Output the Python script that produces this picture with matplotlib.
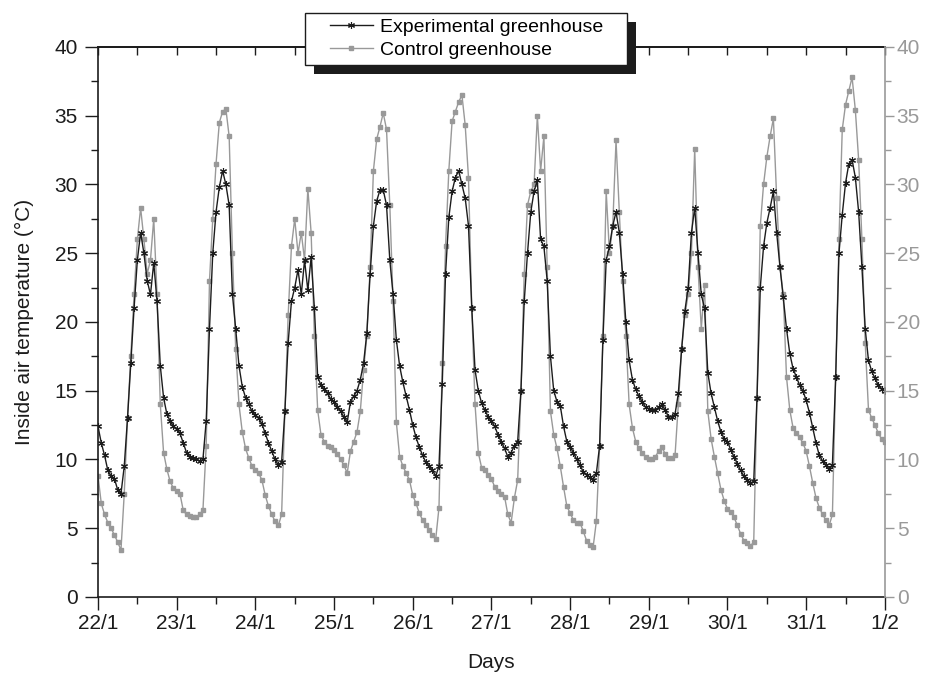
import numpy as np
import matplotlib
matplotlib.use("Agg")
import matplotlib.pyplot as plt
from matplotlib.patches import Rectangle
from matplotlib.ticker import MultipleLocator

plt.rcParams['font.family'] = ['Liberation Sans', 'DejaVu Sans']

# hourly readings, 22/1 00:00 .. 1/2 00:00 (one row per day)
exp_temp = [
    12.4, 11.2, 10.3, 9.2, 8.8, 8.6, 7.8, 7.5, 9.5, 13.0, 17.0, 21.0, 24.5, 26.5, 25.0, 23.0, 22.0, 24.3, 21.5, 16.8, 14.5, 13.3, 12.8, 12.4,
    12.2, 11.9, 11.2, 10.5, 10.2, 10.1, 10.0, 9.9, 10.0, 12.8, 19.5, 25.0, 28.0, 29.8, 31.0, 30.0, 28.5, 22.0, 19.5, 16.8, 15.3, 14.5, 14.0, 13.5,
    13.2, 13.0, 12.6, 11.9, 11.2, 10.6, 10.0, 9.6, 9.8, 13.5, 18.5, 21.5, 22.5, 23.8, 22.0, 24.5, 22.3, 24.7, 21.0, 16.0, 15.4, 15.1, 14.8, 14.4,
    14.2, 13.8, 13.5, 13.1, 12.7, 14.2, 14.6, 15.0, 15.8, 17.0, 19.2, 23.5, 27.0, 28.8, 29.6, 29.6, 28.5, 24.5, 22.0, 18.7, 16.8, 15.6, 14.6, 13.6,
    12.5, 11.6, 10.9, 10.3, 9.8, 9.5, 9.2, 8.8, 9.5, 15.5, 23.5, 27.6, 29.5, 30.5, 31.0, 30.0, 29.0, 27.0, 21.0, 16.5, 15.0, 14.1, 13.6, 13.1,
    12.8, 12.4, 11.8, 11.3, 10.8, 10.2, 10.5, 11.0, 11.3, 15.0, 21.5, 25.0, 28.0, 29.5, 30.3, 26.0, 25.5, 23.0, 17.5, 15.0, 14.2, 13.9, 12.4, 11.3,
    10.9, 10.5, 10.0, 9.6, 9.1, 8.9, 8.7, 8.5, 9.0, 11.0, 18.7, 24.5, 25.5, 27.0, 28.0, 26.5, 23.5, 20.0, 17.2, 15.8, 15.1, 14.6, 14.2, 13.8,
    13.7, 13.6, 13.6, 13.8, 14.0, 13.6, 13.1, 13.1, 13.3, 14.8, 18.0, 20.8, 22.5, 26.5, 28.3, 25.0, 22.0, 21.0, 16.3, 14.8, 13.8, 12.8, 12.0, 11.5,
    11.3, 10.7, 10.2, 9.7, 9.2, 8.8, 8.5, 8.3, 8.4, 14.5, 22.5, 25.5, 27.2, 28.3, 29.5, 26.5, 24.0, 21.8, 19.5, 17.7, 16.6, 16.0, 15.4, 15.0,
    14.3, 13.4, 12.3, 11.2, 10.3, 9.9, 9.6, 9.3, 9.6, 16.0, 25.0, 27.8, 30.1, 31.5, 31.8, 30.5, 28.0, 24.0, 19.5, 17.2, 16.4, 15.9, 15.4, 15.1,
    15.0,
]

ctrl_temp = [
    8.8, 6.8, 6.0, 5.4, 5.0, 4.5, 4.0, 3.4, 7.5, 13.0, 17.5, 22.0, 26.0, 28.3, 26.0, 23.5, 24.5, 27.5, 22.0, 14.0, 10.5, 9.3, 8.4, 7.9,
    7.7, 7.5, 6.3, 6.0, 5.9, 5.8, 5.8, 6.0, 6.3, 11.0, 23.0, 27.5, 31.5, 34.5, 35.3, 35.5, 33.5, 25.0, 18.0, 14.0, 12.0, 10.8, 10.1, 9.5,
    9.2, 9.0, 8.5, 7.4, 6.6, 6.0, 5.5, 5.2, 6.0, 13.5, 20.5, 25.5, 27.5, 25.0, 26.5, 24.5, 29.7, 26.5, 19.0, 13.6, 11.8, 11.3, 11.0, 10.9,
    10.7, 10.4, 10.0, 9.6, 9.0, 10.6, 11.3, 12.0, 13.5, 16.5, 19.0, 24.0, 31.0, 33.3, 34.2, 35.2, 34.0, 28.5, 21.5, 12.7, 10.2, 9.5, 9.0, 8.5,
    7.4, 6.8, 6.1, 5.6, 5.2, 4.9, 4.5, 4.2, 6.5, 17.0, 25.5, 31.0, 34.6, 35.3, 36.0, 36.5, 34.3, 30.5, 21.0, 14.0, 10.5, 9.4, 9.2, 8.9,
    8.6, 8.0, 7.7, 7.5, 7.3, 6.0, 5.4, 7.2, 8.5, 15.0, 23.5, 28.5, 29.5, 30.0, 35.0, 31.0, 33.5, 24.0, 13.5, 11.8, 10.8, 9.5, 8.0, 6.6,
    6.1, 5.6, 5.4, 5.4, 4.8, 4.1, 3.8, 3.6, 5.5, 11.0, 19.0, 29.5, 25.0, 27.0, 33.2, 28.0, 23.0, 19.0, 14.0, 12.3, 11.3, 10.8, 10.5, 10.2,
    10.0, 10.0, 10.2, 10.6, 10.9, 10.4, 10.1, 10.1, 10.3, 14.0, 18.0, 20.5, 22.0, 25.0, 32.6, 24.0, 19.5, 22.7, 13.5, 11.5, 10.2, 9.0, 7.8, 7.0,
    6.4, 6.2, 5.8, 5.2, 4.6, 4.1, 3.9, 3.7, 4.0, 14.5, 27.0, 30.0, 32.0, 33.5, 34.8, 29.0, 24.0, 22.0, 16.0, 13.6, 12.3, 11.9, 11.6, 11.2,
    10.6, 9.5, 8.3, 7.2, 6.5, 6.0, 5.6, 5.2, 6.0, 16.0, 26.0, 34.0, 35.8, 36.8, 37.8, 35.4, 31.8, 26.0, 18.5, 13.6, 13.0, 12.5, 11.9, 11.5,
    11.3,
]

day_labels = ['22/1', '23/1', '24/1', '25/1', '26/1', '27/1', '28/1', '29/1', '30/1', '31/1', '1/2']

days = np.arange(len(exp_temp)) / 24.0

W, H = 929, 677
fig = plt.figure(figsize=(W / 100, H / 100), dpi=100)
ax = fig.add_axes([0.1055, 0.1182, 0.847, 0.8124])

dark = '#1c1c1c'
grey = '#999999'

ln_c, = ax.plot(days, ctrl_temp, color=grey, lw=1.0, marker='s', ms=3.2,
                mfc=grey, mec=grey, label='Control greenhouse', zorder=2)
ln_e, = ax.plot(days, exp_temp, color=dark, lw=1.0, marker=(6, 2, 0), ms=5,
                mec=dark, mew=0.8, label='Experimental greenhouse', zorder=3)

ax.set_xlim(0, 10)
ax.set_ylim(0, 40)
ax.set_xticks(np.arange(len(day_labels)))
ax.set_xticklabels(day_labels)
ax.xaxis.set_minor_locator(MultipleLocator(0.5))
ax.yaxis.set_major_locator(MultipleLocator(5))
ax.yaxis.set_minor_locator(MultipleLocator(2.5))

ax.tick_params(axis='both', which='major', direction='out', length=9.5, width=1,
               labelsize=15, color=dark, labelcolor=dark)
ax.tick_params(axis='both', which='minor', direction='out', length=5, width=1, color=dark)
ax.tick_params(axis='x', which='major', pad=3)
ax.tick_params(axis='y', which='major', pad=5)
for s in ['left', 'bottom', 'top']:
    ax.spines[s].set_linewidth(1.2)
    ax.spines[s].set_color(dark)
ax.spines['right'].set_visible(False)

ax.set_xlabel('Days', fontsize=15, labelpad=14, color=dark)
ax.set_ylabel('Inside air temperature (°C)', fontsize=15, labelpad=15, color=dark)

# top axis: inward ticks, no labels
top = ax.secondary_xaxis('top')
top.set_xticks(np.arange(0, 10.5, 0.5))
top.tick_params(direction='in', length=6, width=1, labeltop=False, color=dark)
top.spines['top'].set_linewidth(1.2)

# right axis in grey
ax2 = ax.twinx()
ax2.set_ylim(0, 40)
ax2.yaxis.set_major_locator(MultipleLocator(5))
ax2.yaxis.set_minor_locator(MultipleLocator(2.5))
ax2.tick_params(axis='y', which='major', direction='out', length=6.5, width=1,
                labelsize=15, color=grey, labelcolor=grey, pad=2)
ax2.tick_params(axis='y', which='minor', direction='out', length=4, width=1, color=grey)
ax2.spines['right'].set_color(grey)
ax2.spines['right'].set_linewidth(1.2)
for s in ['left', 'bottom', 'top']:
    ax2.spines[s].set_visible(False)

# legend box with a solid drop shadow (drawn by hand, wider side padding)
bx0, by0, bx1, by1 = 305, 13, 627, 65
fig.patches.append(Rectangle(((bx0 + 9) / W, 1 - (by1 + 9) / H), (bx1 - bx0) / W, (by1 - by0) / H,
                             transform=fig.transFigure, facecolor=dark, edgecolor='none', zorder=3))
fig.patches.append(Rectangle((bx0 / W, 1 - by1 / H), (bx1 - bx0) / W, (by1 - by0) / H,
                             transform=fig.transFigure, facecolor='white', edgecolor=dark,
                             lw=1.0, zorder=3.5))
leg = fig.legend([ln_e, ln_c], ['Experimental greenhouse', 'Control greenhouse'],
                 loc='upper left', bbox_to_anchor=(330 / W, 1 - 18 / H),
                 fontsize=14, handlelength=2.2, handletextpad=0.35, borderpad=0,
                 borderaxespad=0, labelspacing=0.3, frameon=False, numpoints=1)
leg.set_zorder(6)

fig.savefig('out.png', dpi=100)
